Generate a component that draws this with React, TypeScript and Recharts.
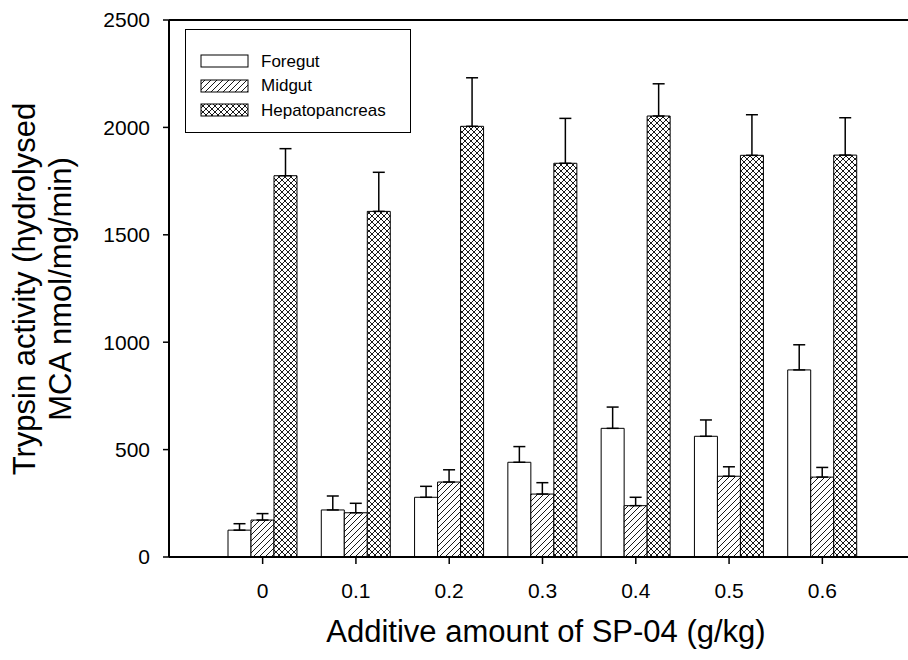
import { BarChart, Bar, XAxis, YAxis, ErrorBar, Legend, ReferenceLine } from "recharts"

const categories = ["0", "0.1", "0.2", "0.3", "0.4", "0.5", "0.6"]
const foregut = [125, 219, 278, 441, 599, 562, 871]
const foregutErr = [30, 65, 51, 73, 99, 76, 117]
const midgut = [172, 206, 349, 293, 239, 376, 372]
const midgutErr = [30, 44, 57, 53, 39, 44, 45]
const hepato = [1775, 1609, 2005, 1833, 2053, 1870, 1871]
const hepatoErr = [126, 182, 226, 209, 150, 189, 174]
const yTicks = [0, 500, 1000, 1500, 2000, 2500]

const data = categories.map((c, i) => ({
  dose: c,
  Foregut: foregut[i],
  fErr: [0, foregutErr[i]],
  Midgut: midgut[i],
  mErr: [0, midgutErr[i]],
  Hepatopancreas: hepato[i],
  hErr: [0, hepatoErr[i]],
}))

const FONT = "'Liberation Sans', Arial, sans-serif"

const legendItems = [
  { name: "Foregut", fill: "#fff" },
  { name: "Midgut", fill: "url(#hatch)" },
  { name: "Hepatopancreas", fill: "url(#cross)" },
]

function LegendBox() {
  return (
    <div
      style={{
        width: 224, height: 83, border: "1px solid #000", background: "#fff",
        boxSizing: "content-box", fontFamily: FONT, fontSize: 17, color: "#000",
        paddingTop: 19,
      }}
    >
      {legendItems.map((it) => (
        <div key={it.name} style={{ display: "flex", alignItems: "center", height: 24.5, marginLeft: 14 }}>
          <svg width={49} height={14} style={{ display: "block" }}>
            <rect x={1} y={1} width={47} height={12} fill={it.fill} stroke="#000" strokeWidth={1} />
          </svg>
          <span style={{ marginLeft: 12, lineHeight: "17px" }}>{it.name}</span>
        </div>
      ))}
    </div>
  )
}

export default function App() {
  return (
    <div style={{ position: "absolute", left: 0, top: 0, width: 908, height: 660, overflow: "hidden", background: "#fff" }}>
      <svg width={0} height={0} style={{ position: "absolute" }}>
        <defs>
          <pattern id="hatch" patternUnits="userSpaceOnUse" width={6} height={6}>
            <rect width={6} height={6} fill="#fff" />
            <path d="M-1,1 l2,-2 M0,6 l6,-6 M5,7 l2,-2" stroke="#000" strokeWidth={0.9} />
          </pattern>
          <pattern id="cross" patternUnits="userSpaceOnUse" width={6} height={6}>
            <rect width={6} height={6} fill="#fff" />
            <path d="M-1,1 l2,-2 M0,6 l6,-6 M5,7 l2,-2 M-1,5 l2,2 M0,0 l6,6 M5,-1 l2,2" stroke="#000" strokeWidth={0.9} />
          </pattern>
        </defs>
      </svg>
      <BarChart
        width={940}
        height={660}
        data={data}
        margin={{ top: 20, right: 24, left: 0, bottom: 0 }}
        barSize={23}
        barGap={0}
      >
        <XAxis
          dataKey="dose"
          height={103}
          padding={{ left: 47, right: 47 }}
          axisLine={{ stroke: "#000", strokeWidth: 2 }}
          tickLine={{ stroke: "#000", strokeWidth: 1.5 }}
          tickSize={7}
          tickMargin={19}
          tick={{ fill: "#000", fontSize: 21, fontFamily: FONT }}
          label={{
            content: () => (
              <text x={546} y={642} textAnchor="middle" fontSize={31} fontFamily={FONT} fill="#000">
                Additive amount of SP-04 (g/kg)
              </text>
            ),
          }}
        />
        <YAxis
          width={169}
          domain={[0, 2500]}
          ticks={yTicks}
          interval={0}
          axisLine={{ stroke: "#000", strokeWidth: 2 }}
          tickLine={{ stroke: "#000", strokeWidth: 1.5 }}
          tickSize={6}
          tickMargin={13}
          tick={{ fill: "#000", fontSize: 21, fontFamily: FONT }}
          label={{
            content: () => (
              <text transform="rotate(-90)" x={-289} y={35} textAnchor="middle" fontSize={31} fontFamily={FONT} fill="#000">
                <tspan x={-289}>Trypsin activity (hydrolysed</tspan>
                <tspan x={-289} dy={36}>MCA nmol/mg/min)</tspan>
              </text>
            ),
          }}
        />
        <ReferenceLine y={2500} stroke="#000" strokeWidth={2} />
        <Legend
          layout="horizontal"
          verticalAlign="middle"
          align="center"
          content={() => <LegendBox />}
          wrapperStyle={{ position: "absolute", top: 29, left: 185, width: "auto", bottom: "auto", right: "auto" }}
        />
        <Bar dataKey="Foregut" fill="#fff" stroke="#000" strokeWidth={1} isAnimationActive={false}>
          <ErrorBar dataKey="fErr" width={6} stroke="#000" strokeWidth={1.5} direction="y" />
        </Bar>
        <Bar dataKey="Midgut" fill="url(#hatch)" stroke="#000" strokeWidth={1} isAnimationActive={false}>
          <ErrorBar dataKey="mErr" width={6} stroke="#000" strokeWidth={1.5} direction="y" />
        </Bar>
        <Bar dataKey="Hepatopancreas" fill="url(#cross)" stroke="#000" strokeWidth={1} isAnimationActive={false}>
          <ErrorBar dataKey="hErr" width={6} stroke="#000" strokeWidth={1.5} direction="y" />
        </Bar>
      </BarChart>
    </div>
  )
}
